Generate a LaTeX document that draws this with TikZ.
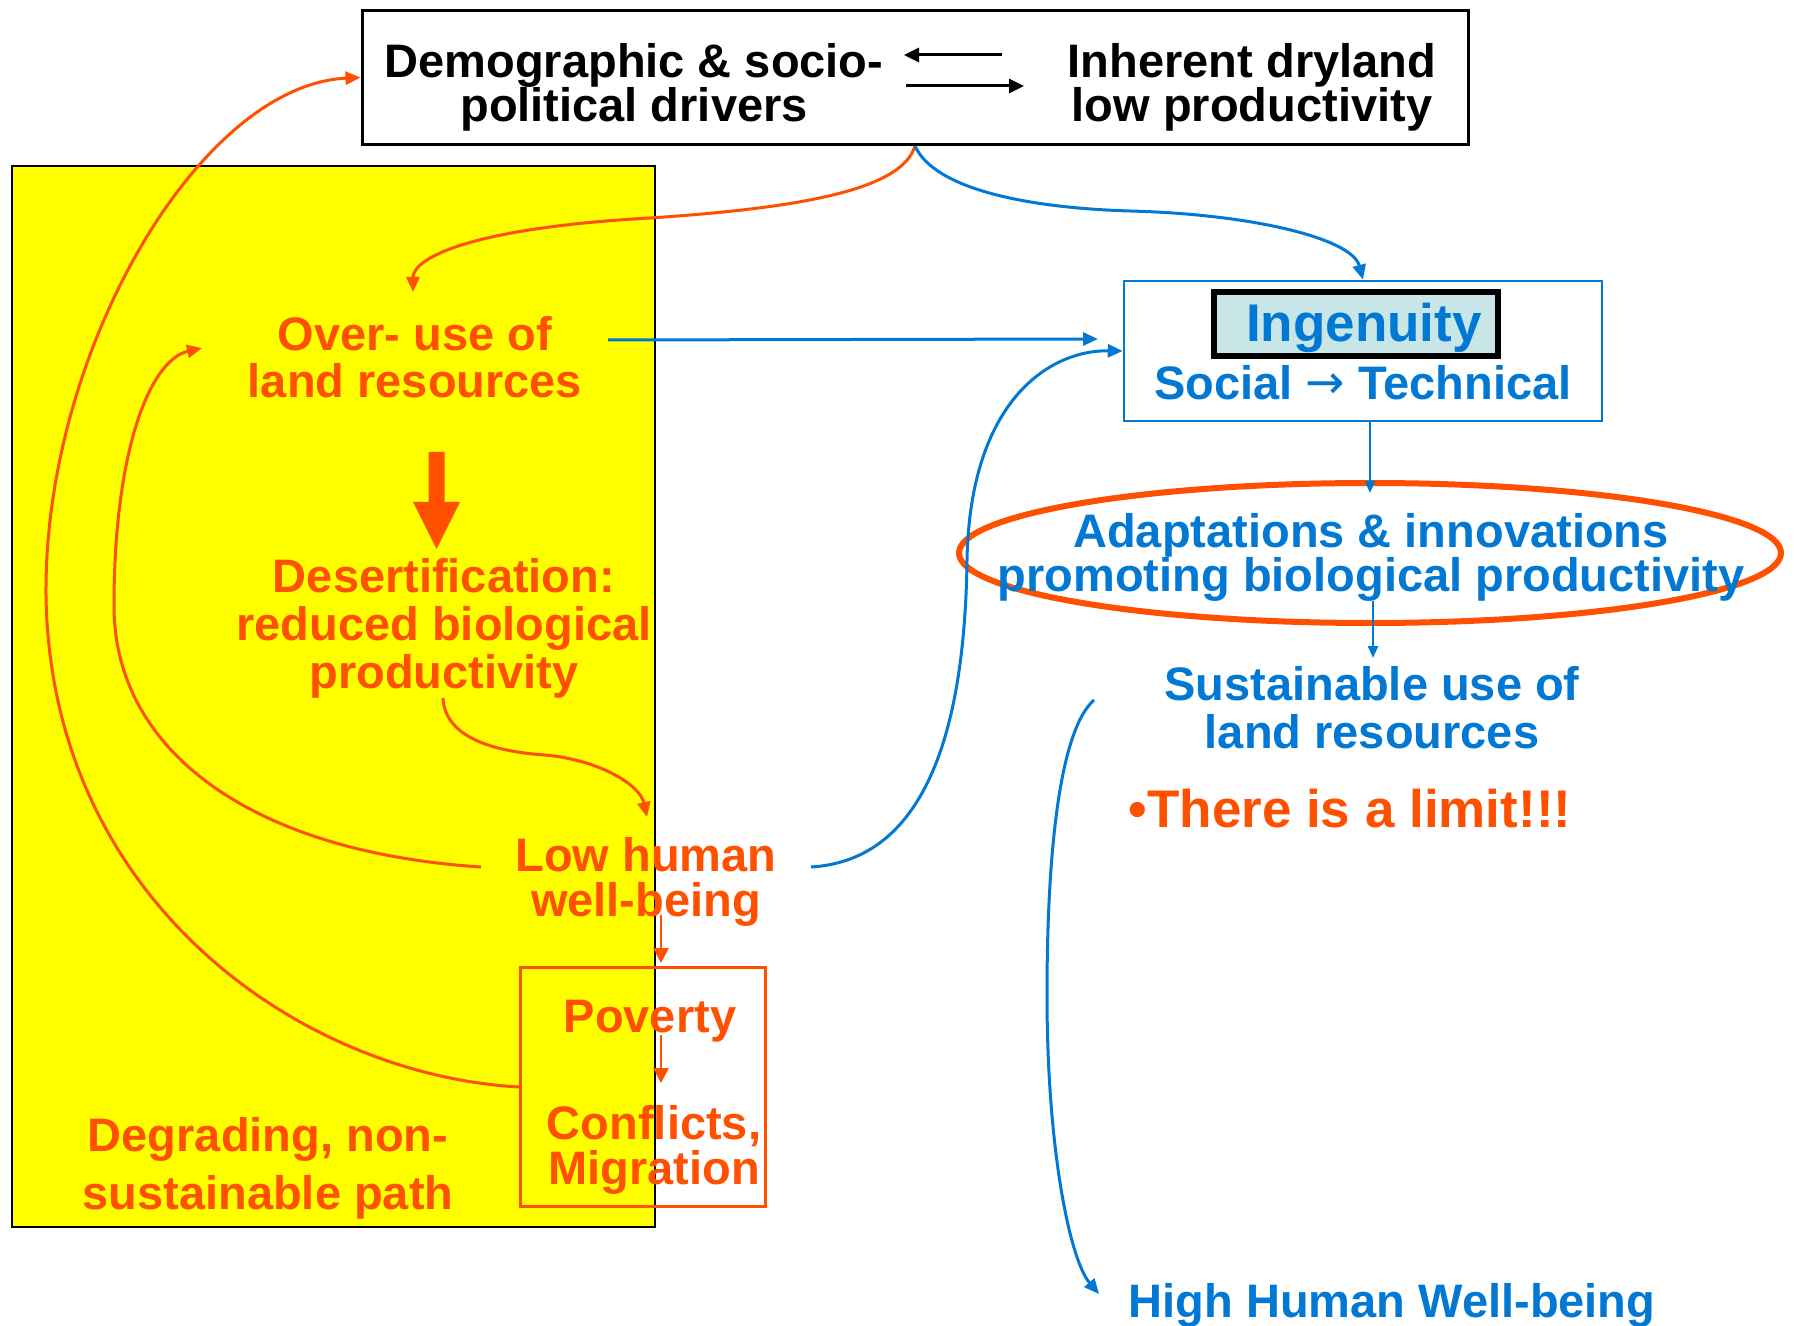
\documentclass[tikz,border=0pt]{standalone}
\usepackage{fontspec}
\setmainfont{Liberation Sans}
\newfontfamily\arrowfont{DejaVu Sans}
\usetikzlibrary{arrows.meta,shapes.geometric}
\definecolor{org}{RGB}{255,80,0}
\definecolor{blu}{RGB}{0,120,212}
\definecolor{ingfill}{RGB}{200,230,232}
\definecolor{yel}{RGB}{255,255,0}
\newcommand{\ctrlines}[2]{\vtop{\baselineskip=#1\lineskiplimit=-\maxdimen\lineskip=0pt\halign{\hfil##\hfil\cr#2\crcr}}}
\begin{document}
\begin{tikzpicture}[x=0.5pt,y=-0.5pt,
  txt/.style={anchor=base,inner sep=0pt,font=\bfseries\fontsize{23.5}{28}\selectfont},
  bigtxt/.style={anchor=base,inner sep=0pt,font=\bfseries\fontsize{26.5}{30}\selectfont},
  tipA/.style={-{Triangle[length=7.5pt,width=6.5pt]}},
  ocurve/.style={draw=org,line width=1.5pt,tipA},
  bcurve/.style={draw=blu,line width=1.5pt,tipA},
  kline/.style={draw=black,line width=1.5pt,-{Triangle[length=7.5pt,width=7pt]}},
]
\useasboundingbox (0,0) rectangle (1794,1326);
\fill[white] (0,0) rectangle (1794,1326);

% boxes
\node (yelbox) [draw=black,fill=yel,line width=1pt,inner sep=0pt,minimum width=321.5pt,minimum height=530.25pt] at (333,696.25) {};
\node (povbox) [draw=org,line width=1.2pt,inner sep=0pt,minimum width=122.5pt,minimum height=119.5pt] at (643,1087) {};
\node (topbox) [draw=black,line width=1.5pt,inner sep=0pt,minimum width=553pt,minimum height=67pt] at (915,77.5) {};
\node (ingbox) [draw=blu,line width=1.3pt,inner sep=0pt,minimum width=239pt,minimum height=70pt] at (1363,351) {};
\node (inginner) [draw=black,fill=ingfill,line width=3pt,inner sep=0pt,minimum width=142pt,minimum height=32pt] at (1356,324) {};
\node (ell) [draw=org,ellipse,line width=3pt,inner sep=0pt,minimum width=411pt,minimum height=70pt] at (1370,553) {};

% texts
\node (demo) [txt] at (634,78) {\ctrlines{22pt}{Demographic \& socio-\cr political drivers}};
\node (inh) [txt] at (1252,78) {\ctrlines{22pt}{Inherent dryland\cr low productivity}};
\node (over) [txt,text=org] at (415,351) {\ctrlines{23.5pt}{Over- use of\cr land resources}};
\node (desert) [txt,text=org] at (444,592) {\ctrlines{24pt}{Desertification:\cr reduced biological\cr productivity}};
\node (low) [txt,text=org] at (646,871) {\ctrlines{22.5pt}{Low human\cr well-being}};
\node (pov) [txt,text=org] at (650,1032) {Poverty};
\node (confl) [txt,text=org] at (654,1139) {\ctrlines{22.5pt}{Conflicts,\cr Migration}};
\node (degr) [txt,text=org] at (268,1151) {\ctrlines{29pt}{Degrading, non-\cr sustainable path}};
\node (ing) [bigtxt,text=blu] at (1364,342) {Ingenuity};
\node (soc) [txt,text=blu] at (1363,400) {Social {\mdseries\arrowfont\raisebox{0.5pt}{→}} Technical};
\node (adapt) [txt,text=blu] at (1371,547) {\ctrlines{22pt}{Adaptations \& innovations\cr promoting biological productivity}};
\node (sust) [txt,text=blu] at (1372,700) {\ctrlines{24pt}{Sustainable use of\cr land resources}};
\node (limit) [bigtxt,text=org] at (1350,827) {•There is a limit!!!};
\node (high) [txt,text=blu] at (1392,1317) {High Human Well-being};

% coordinates
\coordinate (lArrS) at (1002,55);
\coordinate (lArrE) at (904,55);
\coordinate (rArrS) at (906,86);
\coordinate (rArrE) at (1024,86);
\coordinate (overTip) at (413,292);
\coordinate (overR) at (608,340);
\coordinate (ingL) at (1098,339);
\coordinate (desB) at (443,698);
\coordinate (lowTop) at (647,817);
\coordinate (lowL) at (481,867);
\coordinate (overL) at (202,348);
\coordinate (lowR) at (811,867);
\coordinate (ingBot) at (1370,422);
\coordinate (adTop) at (1370,493);
\coordinate (adBot) at (1373,601);
\coordinate (sustTop) at (1373,658);
\coordinate (sustL) at (1094,700);
\coordinate (highL) at (1099,1294);
\coordinate (lowB) at (661,915);
\coordinate (povT) at (661,963);
\coordinate (povB) at (661,1035);
\coordinate (conT) at (661,1083);

% black arrows in top box
\draw[kline] (lArrS) -- (lArrE);
\draw[kline] (rArrS) -- (rArrE);

% thick arrow over-use -> desertification
\fill[org] (428.5,452) -- (444.5,452) -- (444.5,502) -- (460,502) -- (436.5,549) -- (413,502) -- (428.5,502) -- cycle;

% orange connectors
\draw[ocurve] (topbox.south) .. controls (902,190) and (800,208) .. (650,218)
   .. controls (470,228) and (413,258) .. (overTip);
\draw[ocurve] (desB) .. controls (445,740) and (500,752) .. (545,755)
   .. controls (600,760) and (640,785) .. (lowTop);
\draw[ocurve] (lowL) .. controls (250,852) and (114,750) .. (114,606)
   .. controls (114,450) and (150,360) .. (overL);
\draw[ocurve] (povbox.west) .. controls (300,1075) and (50,900) .. (46,595)
   .. controls (44,350) and (200,85) .. (topbox.west);
\draw[draw=org,line width=1.4pt,-{Triangle[length=7.5pt,width=7.5pt]}] (lowB) -- (povT);
\draw[draw=org,line width=1.4pt,-{Triangle[length=7.5pt,width=7.5pt]}] (povB) -- (conT);

% blue connectors
\draw[bcurve] (topbox.south) .. controls (935,190) and (1030,208) .. (1130,211)
   .. controls (1250,214) and (1352,238) .. (ingbox.north);
\draw[bcurve] (overR) -- (ingL);
\draw[bcurve] (lowR) .. controls (930,860) and (965,720) .. (967,560)
   .. controls (970,400) and (1050,350) .. (ingbox.west);
\draw[draw=blu,line width=1.2pt,-{Triangle[length=6pt,width=5pt]}] (ingBot) -- (adTop);
\draw[draw=blu,line width=1.2pt,-{Triangle[length=6pt,width=5pt]}] (adBot) -- (sustTop);
\draw[bcurve] (sustL) .. controls (1060,730) and (1047,850) .. (1047,995)
   .. controls (1047,1150) and (1070,1260) .. (highL);
\end{tikzpicture}
\end{document}
